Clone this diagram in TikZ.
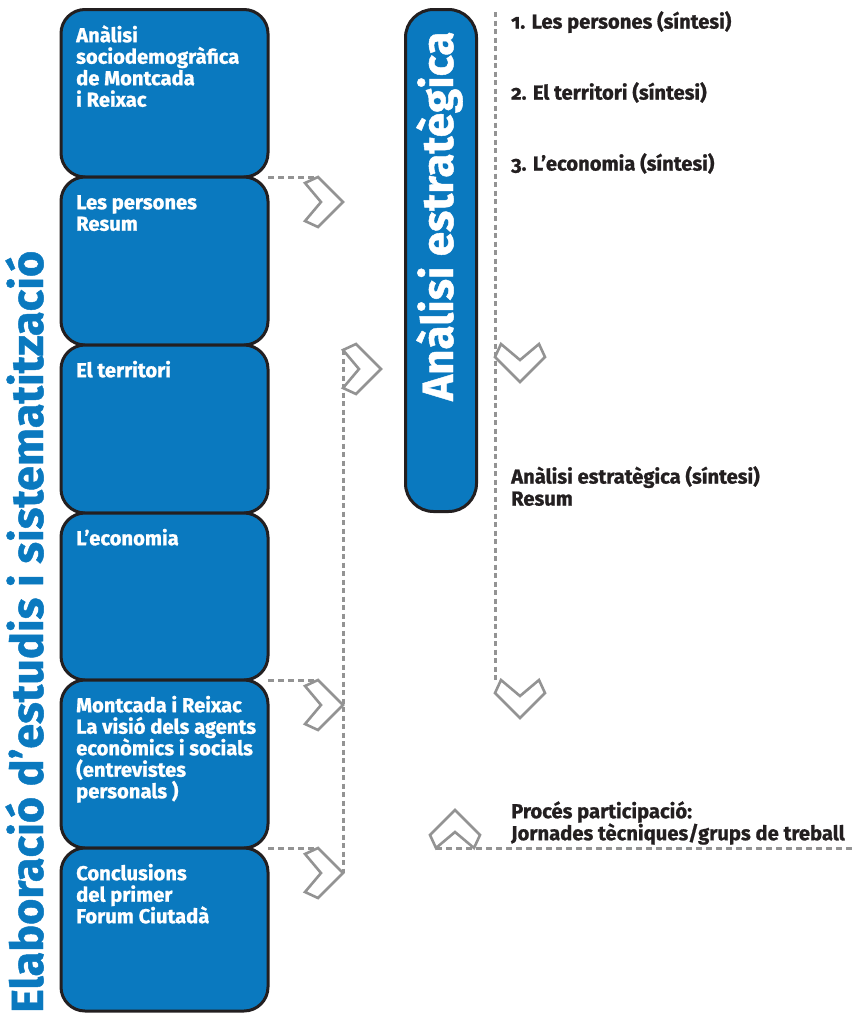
\documentclass[tikz,border=0pt]{standalone}
\usepackage{fontspec}
\setmainfont{Fira Sans}[BoldFeatures={FakeBold=1}]
\definecolor{boxblue}{HTML}{0A79BF}
\definecolor{edge}{HTML}{231F20}
\definecolor{chev}{HTML}{939393}
\definecolor{ink}{HTML}{231F20}
\newcommand{\fstrut}{\rule{0pt}{17pt}}
\tikzset{
  box/.style={draw=edge, line width=3pt, fill=boxblue, rounded corners=24pt,
    minimum width=207pt, inner sep=0pt, outer sep=0pt, anchor=north west},
  boxtext/.style={anchor=north west, inner sep=0pt, align=left, text=white,
    font=\fontsize{20.2}{21.5}\selectfont\bfseries},
  rtext/.style={anchor=north west, inner sep=0pt, align=left, text=ink,
    font=\fontsize{20.2}{22}\selectfont\bfseries},
  dashline/.style={draw=chev, line width=3pt, dash pattern=on 6pt off 4pt},
  vdashline/.style={draw=chev, line width=3pt, dash pattern=on 5pt off 3.5pt},
  chevline/.style={draw=chev, line width=2.6pt, line join=miter, fill=white},
  chevR/.pic={\path[chevline] (0,0) -- (-25,25) -- (-38,19) -- (-22,0) -- (-38,-19) -- (-25,-25) -- cycle;},
  chevD/.pic={\path[chevline] (0,0) -- (-25,-25) -- (-19,-38) -- (0,-22) -- (19,-38) -- (25,-25) -- cycle;},
  chevU/.pic={\path[chevline] (0,0) -- (-25,25) -- (-19,38) -- (0,22) -- (19,38) -- (25,25) -- cycle;}
}
\begin{document}
\begin{tikzpicture}[x=1pt,y=-1pt]
\useasboundingbox (0,0) rectangle (852,1013);

% left column of boxes
\node[box, minimum height=167.5pt] (b1) at (61,9.5) {};
\node[box, minimum height=168pt] (b2) at (61,177) {};
\node[box, minimum height=168pt] (b3) at (61,345) {};
\node[box, minimum height=167pt] (b4) at (61,513) {};
\node[box, minimum height=168pt] (b5) at (61,680) {};
\node[box, minimum height=163pt] (b6) at (61,848) {};

\node[boxtext] (t1) at (76,25) {\fstrut Anàlisi\\sociodemogràfica\\de Montcada\\i Reixac};
\node[boxtext] (t2) at (76,192) {\fstrut Les persones\\Resum};
\node[boxtext] (t3) at (76,360) {\fstrut El territori};
\node[boxtext] (t4) at (76,528) {\fstrut L’economia};
\node[boxtext] (t5) at (76,695) {\fstrut Montcada i Reixac\\La visió dels agents\\econòmics i socials\\(entrevistes\\personals )};
\node[boxtext] (t6) at (76,863) {\fstrut Conclusions\\del primer\\Forum Ciutadà};

% left vertical title
\node[rotate=90, anchor=base west, inner sep=0pt, text=boxblue,
  font=\fontsize{45}{45}\selectfont\bfseries] (vt) at (43,1013) {Elaboració d’estudis i sistematització};

% right blue box
\node[draw=edge, line width=3pt, fill=boxblue, rounded corners=28pt, minimum width=71pt,
  minimum height=502pt, inner sep=0pt, outer sep=0pt, anchor=north west] (ae) at (405.5,9.5) {};
\node[rotate=90, anchor=base west, inner sep=0pt, text=white,
  font=\fontsize{44}{44}\selectfont\bfseries] (aet) at (453,401) {Anàlisi estratègica};

% chevron tips
\coordinate (r1) at (343,202);
\coordinate (r2) at (381,369);
\coordinate (r5) at (343,705);
\coordinate (r6) at (343,873);
\coordinate (d1) at (520,382);
\coordinate (d2) at (520,718);
\coordinate (u1) at (455,810);
% dashed line ends
\coordinate (e1) at (318,177);
\coordinate (e5) at (318,680);
\coordinate (e6) at (318,848);
\coordinate (vtop) at (343,350);
\coordinate (rtop) at (495,12);
\coordinate (rbot) at (495,681);
\coordinate (pl) at (436,848);
\coordinate (pr) at (852,848);

% dashed connectors
\draw[dashline] (b1.south east) -- (e1);
\draw[dashline] (b4.south east) -- (e5);
\draw[dashline] (b5.south east) -- (e6);
\draw[vdashline] (vtop) -- (r6);
\draw[vdashline] (rtop) -- (rbot);
\draw[dashline] (pl) -- (pr);

% chevrons
\pic at (r1) {chevR};
\pic at (r2) {chevR};
\pic at (r5) {chevR};
\pic at (r6) {chevR};
\pic at (d1) {chevD};
\pic at (d2) {chevD};
\pic at (u1) {chevU};

% right texts
\node[rtext] (s1) at (511,11) {\fstrut {\addfontfeatures{Numbers=OldStyle}1.} Les persones (síntesi)};
\node[rtext] (s2) at (511,82) {\fstrut {\addfontfeatures{Numbers=OldStyle}2.} El territori (síntesi)};
\node[rtext] (s3) at (511,153) {\fstrut {\addfontfeatures{Numbers=OldStyle}3.} L’economia (síntesi)};
\node[rtext] (s4) at (511,466) {\fstrut Anàlisi estratègica (síntesi)\\Resum};
\node[rtext] (s5) at (511,801) {\fstrut Procés participació:\\Jornades tècniques/grups de treball};
\end{tikzpicture}
\end{document}
